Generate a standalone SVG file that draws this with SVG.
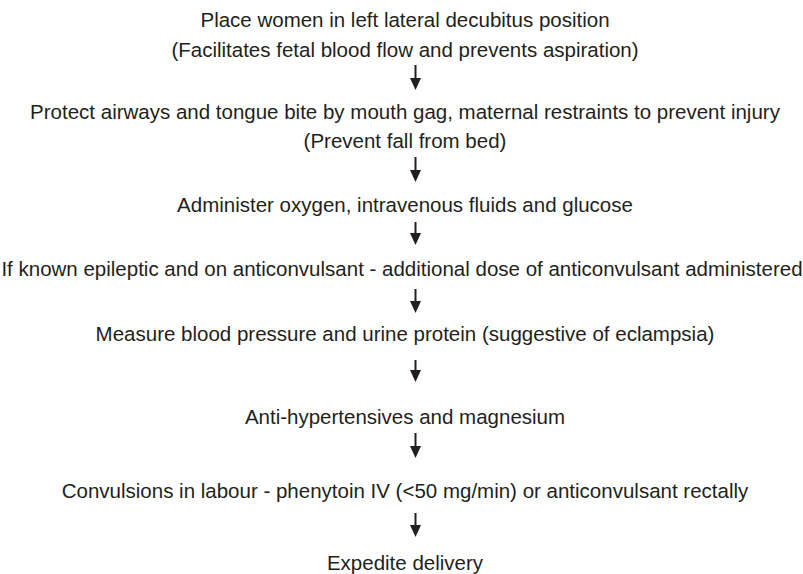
<svg xmlns="http://www.w3.org/2000/svg" width="803" height="574" viewBox="0 0 803 574">
<style>
text{font-family:"Liberation Sans",Arial,sans-serif;font-size:20.5px;fill:#231f20;text-anchor:middle}
.c line{stroke:#231f20;stroke-width:2}
.c path{fill:#231f20}
</style>
<rect width="803" height="574" fill="#fff"/>
<g id="n1"><text x="405" y="27">Place women in left lateral decubitus position</text><text x="405" y="57">(Facilitates fetal blood flow and prevents aspiration)</text></g>
<g id="n2"><text x="405" y="119">Protect airways and tongue bite by mouth gag, maternal restraints to prevent injury</text><text x="405" y="148">(Prevent fall from bed)</text></g>
<g id="n3"><text x="405" y="212">Administer oxygen, intravenous fluids and glucose</text></g>
<g id="n4"><text x="402" y="276">If known epileptic and on anticonvulsant - additional dose of anticonvulsant administered</text></g>
<g id="n5"><text x="405" y="341">Measure blood pressure and urine protein (suggestive of eclampsia)</text></g>
<g id="n6"><text x="405" y="424">Anti-hypertensives and magnesium</text></g>
<g id="n7"><text x="405" y="498">Convulsions in labour - phenytoin IV (&lt;50 mg/min) or anticonvulsant rectally</text></g>
<g id="n8"><text x="405" y="570">Expedite delivery</text></g>
<g id="connectors" class="c">
<g><line x1="415.5" y1="65" x2="415.5" y2="80"/><path d="M410,78 L421,78 L415.5,90 Z"/></g>
<g><line x1="415.5" y1="157" x2="415.5" y2="172"/><path d="M410,170 L421,170 L415.5,182 Z"/></g>
<g><line x1="415.5" y1="222" x2="415.5" y2="235"/><path d="M410,233 L421,233 L415.5,245 Z"/></g>
<g><line x1="415.5" y1="289" x2="415.5" y2="303"/><path d="M410,301 L421,301 L415.5,313 Z"/></g>
<g><line x1="415.5" y1="360" x2="415.5" y2="372"/><path d="M410,370 L421,370 L415.5,382 Z"/></g>
<g><line x1="415.5" y1="433" x2="415.5" y2="448"/><path d="M410,446 L421,446 L415.5,458 Z"/></g>
<g><line x1="415.5" y1="513" x2="415.5" y2="527"/><path d="M410,525 L421,525 L415.5,537 Z"/></g>
</g>
</svg>
